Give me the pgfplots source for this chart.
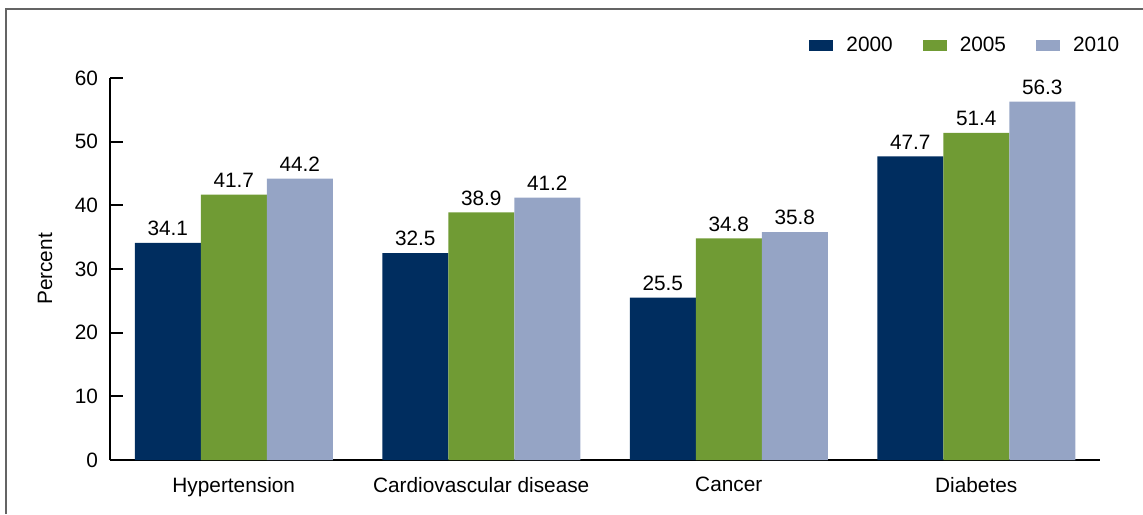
\documentclass[border=0pt]{standalone}
\usepackage{fontspec}
\setmainfont{Liberation Sans}
\usepackage{pgfplots}
\pgfplotsset{compat=1.18}

\definecolor{navy}{RGB}{0,45,95}
\definecolor{leaf}{RGB}{112,155,52}
\definecolor{steel}{RGB}{149,164,197}
\definecolor{framegray}{RGB}{100,100,100}

\begin{document}
\begin{tikzpicture}
\path[use as bounding box] (0,0) rectangle (571.5pt,257pt);
\draw[framegray,line width=1pt] (3pt,0) -- (3pt,252.5pt) -- (572pt,252.5pt);
\begin{axis}[
    at={(55pt,27pt)}, anchor=south west,
    scale only axis,
    width=495pt, height=191pt,
    font=\fontsize{10.4}{12}\selectfont,
    /pgf/number format/assume math mode=true,
    ybar=0pt,
    bar width=33pt,
    xmin=-0.5, xmax=3.5,
    ymin=0, ymax=60,
    ytick={0,10,...,60},
    xtick={0,1,2,3},
    xticklabels={Hypertension, Cardiovascular disease, Cancer, Diabetes},
    axis x line*=bottom,
    axis y line*=left,
    axis line style={-, line width=0.9pt, black},
    x tick style={draw=none},
    y tick style={line width=0.9pt, black},
    tick align=inside,
    major tick length=6.5pt,
    yticklabel style={xshift=-2.5pt},
    xticklabel style={yshift=-5pt},
    ylabel={Percent},
    ylabel style={at={(axis description cs:-0.0657,0.5)}, anchor=center},
    nodes near coords,
    every node near coord/.append style={font=\fontsize{10.4}{12}\selectfont, /pgf/number format/fixed, /pgf/number format/precision=1, /pgf/number format/fixed zerofill},
    legend columns=-1,
    legend style={draw=none, at={(axis description cs:1.03,1.084)}, anchor=east,
        /tikz/every odd column/.append style={column sep=4.5pt},
        /tikz/every even column/.append style={column sep=13pt}},
    legend image code/.code={\fill[#1] (0pt,-2.75pt) rectangle (12pt,2.75pt);},
]
\addplot[fill=navy, draw=none] coordinates {(0,34.1) (1,32.5) (2,25.5) (3,47.7)};
\addplot[fill=leaf, draw=none] coordinates {(0,41.7) (1,38.9) (2,34.8) (3,51.4)};
\addplot[fill=steel, draw=none] coordinates {(0,44.2) (1,41.2) (2,35.8) (3,56.3)};
\legend{2000, 2005, 2010}
\end{axis}
\end{tikzpicture}
\end{document}
